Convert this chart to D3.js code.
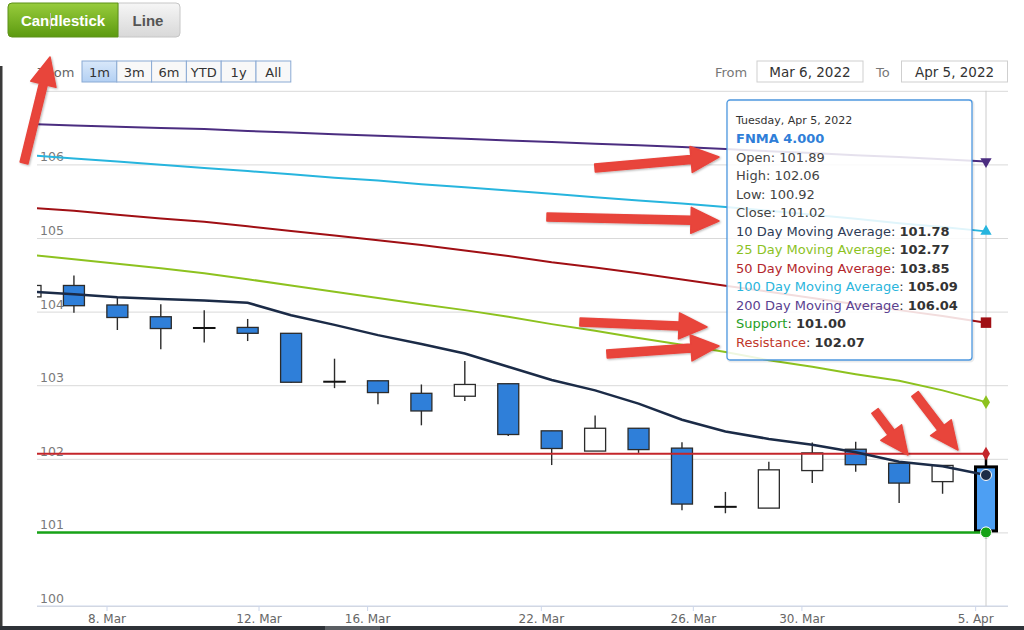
<!DOCTYPE html>
<html>
<head>
<meta charset="utf-8">
<script src="https://cdn.jsdelivr.net/npm/d3@7"></script>
<style>
  body { margin: 0; background: #fff; }
  svg { display: block; }
</style>
</head>
<body>
<svg id="chart" width="1024" height="630"></svg>
<script>
// trading days (Mar 4 sits just left of the visible window)
var dates = ["2022-03-04","2022-03-07","2022-03-08","2022-03-09","2022-03-10","2022-03-11",
  "2022-03-14","2022-03-15","2022-03-16","2022-03-17","2022-03-18",
  "2022-03-21","2022-03-22","2022-03-23","2022-03-24","2022-03-25",
  "2022-03-28","2022-03-29","2022-03-30","2022-03-31","2022-04-01",
  "2022-04-04","2022-04-05"];

var open  = [104.20, 104.355, 104.09, 103.93, 103.78, 103.785, 103.705, 103.05, 103.06, 102.89, 102.85,
  103.02, 102.38, 102.105, 102.415, 102.145, 101.35, 101.33, 101.84, 102.13, 101.94, 101.69, 101.89];
var high  = [104.42, 104.49, 104.19, 104.10, 104.02, 103.90, 103.71, 103.36, 103.06, 103.01, 103.33,
  103.02, 102.38, 102.59, 102.415, 102.225, 101.55, 101.96, 102.22, 102.23, 101.94, 101.91, 102.06];
var low   = [104.15, 103.985, 103.75, 103.49, 103.58, 103.60, 103.03, 102.96, 102.74, 102.455, 102.785,
  102.31, 101.915, 102.105, 102.08, 101.30, 101.26, 101.33, 101.67, 101.825, 101.40, 101.525, 100.92];
var close = [104.355, 104.08, 103.92, 103.77, 103.78, 103.705, 103.04, 103.05, 102.90, 102.65, 103.01,
  102.33, 102.14, 102.415, 102.125, 101.385, 101.35, 101.85, 102.08, 101.92, 101.67, 101.91, 101.02];

var ma10  = [104.27, 104.235, 104.195, 104.17, 104.15, 104.12, 103.95, 103.82, 103.68, 103.56, 103.43,
  103.25, 103.07, 102.93, 102.75, 102.53, 102.37, 102.27, 102.19, 102.09, 101.96, 101.90, 101.78];
var ma25  = [104.77, 104.71, 104.65, 104.59, 104.52, 104.44, 104.355, 104.27, 104.185, 104.10, 104.02,
  103.93, 103.83, 103.74, 103.64, 103.55, 103.45, 103.34, 103.25, 103.15, 103.06, 102.93, 102.77];
var ma50  = [105.41, 105.37, 105.315, 105.265, 105.22, 105.16, 105.095, 105.035, 104.97, 104.905, 104.83,
  104.755, 104.67, 104.60, 104.52, 104.435, 104.35, 104.27, 104.185, 104.10, 104.02, 103.94, 103.85];
var ma100 = [106.125, 106.08, 106.04, 105.995, 105.95, 105.91, 105.865, 105.82, 105.78, 105.73, 105.69,
  105.645, 105.60, 105.555, 105.51, 105.47, 105.42, 105.37, 105.315, 105.26, 105.20, 105.15, 105.09];
var ma200 = [106.548, 106.53, 106.51, 106.495, 106.48, 106.455, 106.435, 106.41, 106.39, 106.37, 106.35,
  106.325, 106.305, 106.28, 106.26, 106.235, 106.21, 106.18, 106.155, 106.125, 106.10, 106.07, 106.04];

var support = 101.00;
var resistance = 102.07;

var yTicks = [100, 101, 102, 103, 104, 105, 106, 107];
var xTicks = ["2022-03-08", "2022-03-12", "2022-03-16", "2022-03-22", "2022-03-26", "2022-03-30", "2022-04-05"];
var rangeButtons = ["1m", "3m", "6m", "YTD", "1y", "All"];
var chartTypes = ["Candlestick", "Line"];
var seriesName = "FNMA 4.000";
var fromLabel = "Mar 6, 2022", toLabel = "Apr 5, 2022";

var svg = d3.select("#chart");
var font = "'DejaVu Sans', sans-serif";
var plotL = 37, plotR = 1008, plotT = 90.8, plotB = 606;
var n = dates.length, last = n - 1;

var parseDay = d3.timeParse("%Y-%m-%d");
// points are stamped at 06:00, ticks at midnight; ordinal axis skips weekends
var times = dates.map(function(s) { return d3.timeHour.offset(parseDay(s), 6); });
var xi = d3.scaleLinear().domain([0, last]).range([30.5, 986]);
var x = d3.scaleLinear().domain(times).range(times.map(function(d, i) { return xi(i); }));
var y = d3.scaleLinear().domain([100, 107]).range([plotB, plotT]);

var defs = svg.append("defs");
defs.append("clipPath").attr("id", "clip").append("rect")
    .attr("x", plotL).attr("y", plotT - 1).attr("width", plotR - plotL).attr("height", plotB - plotT + 1);
var gGreen = defs.append("linearGradient").attr("id", "green").attr("x2", 0).attr("y2", 1);
gGreen.append("stop").attr("offset", 0).attr("stop-color", "#98cc3c");
gGreen.append("stop").attr("offset", 1).attr("stop-color", "#5c9a10");
var gGray = defs.append("linearGradient").attr("id", "gray").attr("x2", 0).attr("y2", 1);
gGray.append("stop").attr("offset", 0).attr("stop-color", "#f6f6f6");
gGray.append("stop").attr("offset", 1).attr("stop-color", "#d8d8d8");
var gSel = defs.append("linearGradient").attr("id", "sel").attr("x2", 0).attr("y2", 1);
gSel.append("stop").attr("offset", 0).attr("stop-color", "#d9e8fa");
gSel.append("stop").attr("offset", 1).attr("stop-color", "#b3d0f3");
defs.append("filter").attr("id", "shadow").attr("x", "-20%").attr("y", "-20%").attr("width", "140%").attr("height", "140%")
  .append("feDropShadow").attr("dx", 1).attr("dy", 1).attr("stdDeviation", 1.2).attr("flood-opacity", 0.3);

// y grid + labels
var yAxis = svg.append("g").attr("transform", "translate(" + plotL + ",0)")
    .call(d3.axisRight(y).tickValues(yTicks).tickSize(plotR - plotL)
      .tickFormat(function(d) { return d < 107 ? d : ""; }));
yAxis.select(".domain").remove();
yAxis.selectAll("line").attr("stroke", "#d9d9d9");
yAxis.selectAll("text").attr("x", 3).attr("dy", -3.5).attr("fill", "#7a7a7a")
    .style("font-family", font).style("font-size", "12.5px");

// x axis
var xAxis = svg.append("g").attr("transform", "translate(0," + plotB + ")")
    .call(d3.axisBottom(x).tickValues(xTicks.map(parseDay)).tickSize(5).tickSizeOuter(0)
      .tickFormat(d3.timeFormat("%-d. %b")));
xAxis.select(".domain").remove();
xAxis.selectAll("line").attr("stroke", "#ccd6eb");
xAxis.selectAll("text").attr("fill", "#666").style("font-family", font).style("font-size", "12px");
svg.append("line").attr("x1", plotL).attr("x2", plotR).attr("y1", plotB).attr("y2", plotB)
    .attr("stroke", "#ccd6eb");

// crosshair on hovered point
svg.append("line").attr("x1", xi(last)).attr("x2", xi(last)).attr("y1", plotT).attr("y2", plotB)
    .attr("stroke", "#cccccc");

var plot = svg.append("g").attr("clip-path", "url(#clip)");

// candles
var candle = plot.selectAll(".candle").data(d3.range(n)).join("g").attr("class", "candle");
candle.append("line")
    .attr("x1", function(i) { return xi(i); }).attr("x2", function(i) { return xi(i); })
    .attr("y1", function(i) { return y(high[i]); }).attr("y2", function(i) { return y(low[i]); })
    .attr("stroke", function(i) { return i === last ? "#000" : "#2b2b2b"; })
    .attr("stroke-width", function(i) { return i === last ? 2.5 : 1.4; });
candle.append("rect")
    .attr("x", function(i) { return xi(i) - 10.5; }).attr("width", 21)
    .attr("y", function(i) { return y(Math.max(open[i], close[i])); })
    // a zero-height rect is not painted, so dojis get a hairline body
    .attr("height", function(i) { return Math.max(Math.abs(y(open[i]) - y(close[i])), 0.4); })
    .attr("fill", function(i) {
      if (i === last) return "#4d9ff3";
      return close[i] >= open[i] ? "#ffffff" : "#2f7fd9";
    })
    .attr("stroke", function(i) { return i === last ? "#000" : (open[i] === close[i] ? "#111" : "#2b2b2b"); })
    .attr("stroke-width", function(i) { return i === last ? 3 : (open[i] === close[i] ? 1.6 : 1.3); });

// support / resistance
plot.append("line").attr("x1", xi(0)).attr("x2", xi(last)).attr("y1", y(support)).attr("y2", y(support))
    .attr("stroke", "#17a317").attr("stroke-width", 2.5);
plot.append("line").attr("x1", xi(0)).attr("x2", xi(last)).attr("y1", y(resistance)).attr("y2", y(resistance))
    .attr("stroke", "#c4262b").attr("stroke-width", 2);

// moving averages
var line = d3.line().x(function(d, i) { return xi(i); }).y(function(d) { return y(d); });
var maSeries = [
  {name: "200 Day Moving Average", values: ma200, color: "#4b2d80", text: "#5a3f90"},
  {name: "100 Day Moving Average", values: ma100, color: "#27b5de", text: "#2ab5dc"},
  {name: "50 Day Moving Average",  values: ma50,  color: "#a00f14", text: "#b3262c"},
  {name: "25 Day Moving Average",  values: ma25,  color: "#8dc21f", text: "#8cc21f"},
  {name: "10 Day Moving Average",  values: ma10,  color: "#1b2b47", text: "#2d3b56"}
];
maSeries.forEach(function(s) {
  plot.append("path").datum(s.values).attr("d", line)
      .attr("fill", "none").attr("stroke", s.color)
      .attr("stroke-width", s.values === ma10 ? 2.5 : 2);
});

// hover markers on last point
function marker(type, value, color, size) {
  var sym = type === "down" ? d3.symbolTriangle : type;
  var g = svg.append("path")
      .attr("d", d3.symbol().type(sym).size(size)())
      .attr("fill", color)
      .attr("transform", "translate(" + xi(last) + "," + y(value) + ")" + (type === "down" ? " rotate(180)" : ""));
  if (type === d3.symbolCircle) g.attr("stroke", "#fff").attr("stroke-width", 1);
}
marker("down", ma200[last], "#4b2d80", 55);
marker(d3.symbolTriangle, ma100[last], "#27b5de", 55);
marker(d3.symbolSquare, ma50[last], "#a00f14", 110);
marker(d3.symbolDiamond, ma25[last], "#8dc21f", 55);
marker(d3.symbolDiamond, resistance, "#c4262b", 55);
marker(d3.symbolCircle, ma10[last], "#1b2b47", 95);
marker(d3.symbolCircle, support, "#17a317", 95);

// chart type buttons
var btn = svg.append("g").style("font-family", "'Liberation Sans', Arial, sans-serif").style("font-weight", "bold");
btn.append("path").attr("d", "M118,3 H176 a4,4 0 0 1 4,4 V33 a4,4 0 0 1 -4,4 H118 Z")
    .attr("fill", "url(#gray)").attr("stroke", "#c6c6c6");
btn.append("path").attr("d", "M12,3 H118 V37 H12 a4,4 0 0 1 -4,-4 V7 a4,4 0 0 1 4,-4 Z")
    .attr("fill", "url(#green)").attr("stroke", "#5d9118");
btn.append("text").attr("x", 63).attr("y", 25.5).attr("text-anchor", "middle")
    .attr("fill", "#fff").style("font-size", "15px").text(chartTypes[0]);
btn.append("text").attr("x", 148).attr("y", 25.5).attr("text-anchor", "middle")
    .attr("fill", "#555").style("font-size", "15px").text(chartTypes[1]);
btn.append("line").attr("x1", 50.5).attr("x2", 50.5).attr("y1", 13).attr("y2", 29)
    .attr("stroke", "#bbb").attr("stroke-width", 1);

// range selector
var rs = svg.append("g").style("font-family", font).style("font-size", "13px");
rs.append("text").attr("x", 37).attr("y", 77).attr("fill", "#666").text("Zoom");
var bw = 34.8;
rangeButtons.forEach(function(b, i) {
  rs.append("rect").attr("x", 82 + i * bw).attr("y", 61).attr("width", bw).attr("height", 21)
      .attr("fill", i === 0 ? "url(#sel)" : "#f8f8f8").attr("stroke", "#8aaad4");
  rs.append("text").attr("x", 82 + i * bw + bw / 2).attr("y", 76.5).attr("text-anchor", "middle")
      .attr("fill", "#333").text(b);
});
rs.append("text").attr("x", 715).attr("y", 77).attr("fill", "#777").text("From");
rs.append("text").attr("x", 876).attr("y", 77).attr("fill", "#777").text("To");
[[757, fromLabel], [901.5, toLabel]].forEach(function(d) {
  rs.append("rect").attr("x", d[0]).attr("y", 61).attr("width", 106).attr("height", 21)
      .attr("fill", "#fff").attr("stroke", "#cfcfcf");
  rs.append("text").attr("x", d[0] + 53).attr("y", 76.5).attr("text-anchor", "middle")
      .attr("fill", "#333").style("font-size", "13.5px").text(d[1]);
});

// tooltip
var fmt = d3.format(".2f");
var tip = svg.append("g").attr("transform", "translate(727,100)").style("font-family", font);
tip.append("rect").attr("x", 1).attr("y", 1).attr("width", 245).attr("height", 260).attr("rx", 3)
    .attr("fill", "none").attr("stroke", "rgba(0,0,0,0.08)").attr("stroke-width", 3);
tip.append("rect").attr("width", 245).attr("height", 260).attr("rx", 3)
    .attr("fill", "rgba(255,255,255,0.86)").attr("stroke", "#4d98e0").attr("stroke-width", 1.3);
tip.append("text").attr("x", 9).attr("y", 24).attr("fill", "#333").style("font-size", "11px")
    .text(d3.timeFormat("%A, %b %-d, %Y")(parseDay(dates[last])));
tip.append("text").attr("x", 9).attr("y", 43).attr("fill", "#2f7ed8").style("font-size", "13px")
    .style("font-weight", "bold").text(seriesName);
var rows = [
  {label: "Open", value: open[last], color: "#444", plain: true},
  {label: "High", value: high[last], color: "#444", plain: true},
  {label: "Low", value: low[last], color: "#444", plain: true},
  {label: "Close", value: close[last], color: "#444", plain: true}
];
maSeries.slice().reverse().forEach(function(s) {
  rows.push({label: s.name, value: s.values[last], color: s.text});
});
rows.push({label: "Support", value: support, color: "#1f9e1f"});
rows.push({label: "Resistance", value: resistance, color: "#c0392b"});
rows.forEach(function(r, i) {
  var t = tip.append("text").attr("x", 9).attr("y", 62 + i * 18.45).style("font-size", "13px");
  t.append("tspan").attr("fill", r.color).text(r.label);
  t.append("tspan").attr("fill", r.plain ? "#444" : "#333").text(": ");
  t.append("tspan").attr("fill", r.plain ? "#444" : "#333")
      .style("font-weight", r.plain ? "normal" : "bold").text(fmt(r.value));
});

// screenshot frame edges
svg.append("rect").attr("x", 0).attr("y", 66).attr("width", 2.5).attr("height", 564).attr("fill", "#3a3a3a");
svg.append("rect").attr("x", 0).attr("y", 626).attr("width", 1024).attr("height", 4).attr("fill", "#2e3238");
svg.append("rect").attr("x", 325).attr("y", 626).attr("width", 55).attr("height", 4).attr("fill", "#5a5e63");

// red annotation arrows
var arrows = [
  [24, 163, 50, 57], [595, 168, 719, 157], [547, 217, 719, 221], [580, 322, 707, 327],
  [607, 354, 719, 346], [875, 411, 908, 455], [915, 394, 958, 450]
];
function arrowPoints(a) {
  var x1 = a[0], y1 = a[1], x2 = a[2], y2 = a[3];
  var len = Math.hypot(x2 - x1, y2 - y1), ux = (x2 - x1) / len, uy = (y2 - y1) / len;
  var nx = -uy, ny = ux, sh = 4, hw = 13, hl = 28;
  var bx = x2 - ux * hl, by = y2 - uy * hl;
  return [[x1 + nx * sh, y1 + ny * sh], [bx + nx * sh, by + ny * sh], [bx + nx * hw, by + ny * hw],
    [x2, y2], [bx - nx * hw, by - ny * hw], [bx - nx * sh, by - ny * sh], [x1 - nx * sh, y1 - ny * sh]];
}
svg.append("g").attr("filter", "url(#shadow)").selectAll("polygon").data(arrows).join("polygon")
    .attr("points", function(a) { return arrowPoints(a).map(function(p) { return p.join(","); }).join(" "); })
    .attr("fill", "#e8443b").attr("stroke", "#e8443b").attr("stroke-width", 1.5).attr("stroke-linejoin", "round");
</script>
</body>
</html>
